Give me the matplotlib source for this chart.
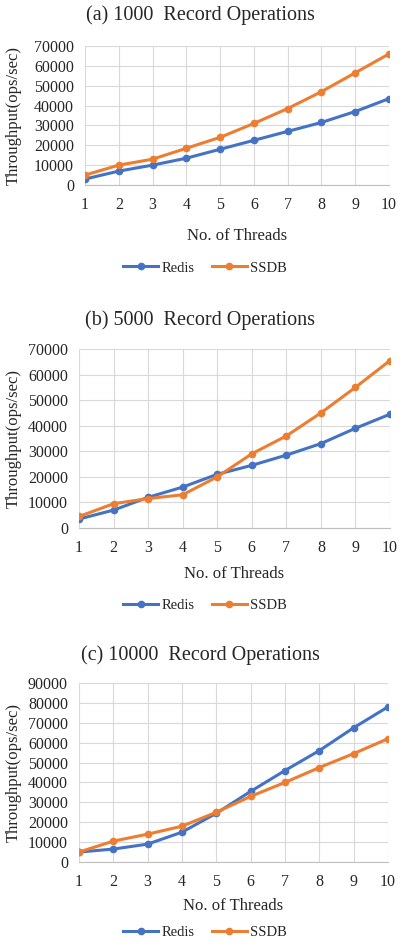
import matplotlib
matplotlib.use("Agg")
import matplotlib.pyplot as plt

plt.rcParams['font.family'] = ['Liberation Serif', 'DejaVu Serif']

threads = [1, 2, 3, 4, 5, 6, 7, 8, 9, 10]

# (a) 1000 record operations
redis_1000 = [3000, 7000, 10000, 13500, 18000, 22500, 27000, 31500, 37000, 43500]
ssdb_1000 = [5000, 10000, 13000, 18500, 24000, 31000, 38500, 47000, 56500, 66000]

# (b) 5000 record operations
redis_5000 = [3500, 7000, 12000, 16000, 21000, 24500, 28500, 33000, 39000, 44500]
ssdb_5000 = [4500, 9500, 11500, 13000, 20000, 29000, 36000, 45000, 55000, 65500]

# (c) 10000 record operations
redis_10000 = [5000, 6500, 9000, 15000, 24500, 35500, 46000, 56000, 67500, 78000]
ssdb_10000 = [5000, 10500, 14000, 18000, 25000, 33000, 40000, 47500, 54500, 62000]

titles = ["(a) 1000  Record Operations", "(b) 5000  Record Operations",
          "(c) 10000  Record Operations"]
ymax = [70000, 70000, 90000]

BLUE = "#4472C4"
ORANGE = "#ED7D31"
GRID = "#D9D9D9"
TXT = "#262626"

W, H = 403, 950
fig = plt.figure(figsize=(W / 100, H / 100), dpi=100)

# pixel boxes: left, right, top, bottom
boxes = [(85, 389, 46, 185), (79, 390, 349, 528), (79, 388, 683, 862)]
title_y = [15, 320, 655]
label_y = [228, 566, 898]
legend_y = [268, 605, 932]

panels = [(redis_1000, ssdb_1000), (redis_5000, ssdb_5000), (redis_10000, ssdb_10000)]

for i, (redis, ssdb) in enumerate(panels):
    l, r, t, b = boxes[i]
    ax = fig.add_axes([l / W, 1 - b / H, (r - l) / W, (b - t) / H])
    ax.plot(threads, redis, color=BLUE, lw=2.2, marker="o", ms=4.5, label="Redis")
    ax.plot(threads, ssdb, color=ORANGE, lw=2.2, marker="o", ms=4.5, label="SSDB")
    ax.set_xlim(1, 10)
    ax.set_ylim(0, ymax[i])
    ax.set_xticks(threads)
    ax.set_yticks(range(0, ymax[i] + 1, 10000))
    ax.grid(True, color=GRID, lw=0.8)
    ax.set_axisbelow(True)
    for s in ["top", "right", "left"]:
        ax.spines[s].set_visible(False)
    ax.spines["bottom"].set_color("#BFBFBF")
    ax.tick_params(length=0, labelsize=11.5, colors=TXT)
    ax.tick_params(axis="x", pad=9)
    ax.tick_params(axis="y", pad=8)

    ax.set_xlabel("No. of Threads", fontsize=12, color=TXT)
    ax.xaxis.set_label_coords(0.5, -(label_y[i] - b) / (b - t))
    ax.set_ylabel("Throughput(ops/sec)", fontsize=12, color=TXT)
    ax.yaxis.set_label_coords((22 - l) / (r - l), 0.5)

    fig.text(200 / W, 1 - title_y[i] / H, titles[i], fontsize=14.5,
             ha="center", va="center", color=TXT)

    handles, labels = ax.get_legend_handles_labels()
    fig.legend(handles, labels, loc="center", ncol=2, frameon=False,
               bbox_to_anchor=(205 / W, 1 - legend_y[i] / H), fontsize=10.5,
               handlelength=2.4, columnspacing=1.2, handletextpad=0.2,
               labelcolor=TXT)

fig.savefig("out.png", dpi=100, facecolor="white")
